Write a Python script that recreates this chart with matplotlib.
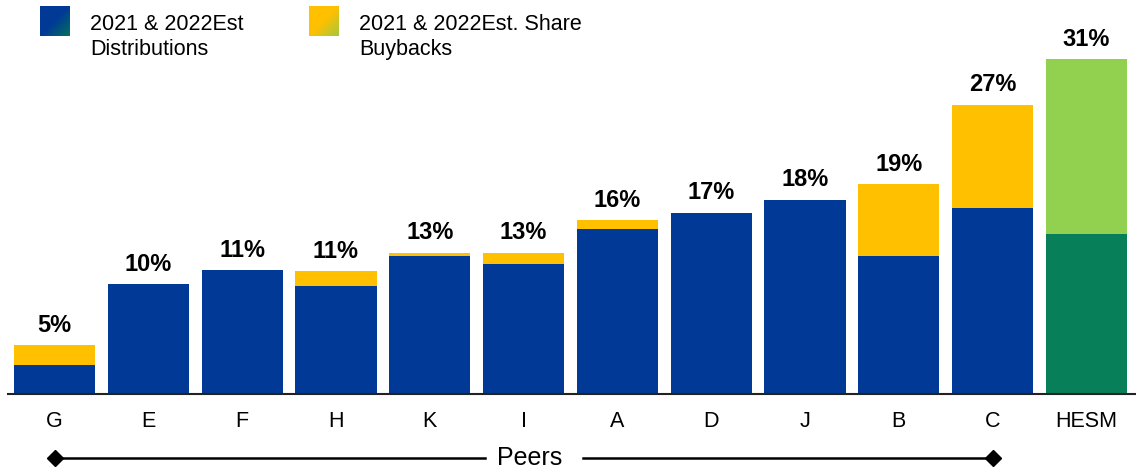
import numpy as np
from matplotlib import pyplot as plt
from matplotlib.colors import LinearSegmentedColormap

# peer data (% of market cap)
companies = ["G", "E", "F", "H", "K", "I", "A", "D", "J", "B", "C", "HESM"]
distributions = [2.7, 10.2, 11.5, 10.0, 12.8, 12.0, 15.3, 16.8, 18.0, 12.8, 17.2, 14.8]
buybacks = [1.8, 0.0, 0.0, 1.4, 0.3, 1.1, 0.8, 0.0, 0.0, 6.6, 9.6, 16.2]
totals = ["5%", "10%", "11%", "11%", "13%", "13%", "16%", "17%", "18%", "19%", "27%", "31%"]

blue = "#003A96"
yellow = "#FFC000"
dkgreen = "#077F59"
ltgreen = "#92D050"
font = "Liberation Sans"

fig = plt.figure(figsize=(11.36, 4.73), dpi=100)
ax = fig.add_axes([8/1136, 79/473, 1128/1136, 394/473])

x = np.arange(len(companies))
c1 = [blue]*(len(companies)-1) + [dkgreen]
c2 = [yellow]*(len(companies)-1) + [ltgreen]
ax.bar(x, distributions, width=0.865, color=c1)
ax.bar(x, buybacks, width=0.865, bottom=distributions, color=c2)

for i in range(len(companies)):
    top = distributions[i] + buybacks[i]
    ax.text(x[i], top + 0.75, totals[i], ha="center", va="bottom",
            fontsize=17, fontweight="bold", family=font)

ax.set_xlim(-0.496, 11.528)
ax.set_ylim(0, 394/10.8)
for s in ["top", "right", "left"]:
    ax.spines[s].set_visible(False)
ax.spines["bottom"].set_color("#222222")
ax.spines["bottom"].set_linewidth(1.5)
ax.set_yticks([])
ax.set_xticks(x)
ax.set_xticklabels(companies, fontsize=15.5, family=font)
ax.tick_params(axis="x", length=0, pad=12)

# Peers bracket under the axis
ly = -5.93
ax.plot([0, 4.59], [ly, ly], color="black", lw=1.8, clip_on=False)
ax.plot([5.63, 10], [ly, ly], color="black", lw=1.8, clip_on=False)
ax.plot([0, 10], [ly, ly], ls="none", marker="D", ms=8, color="black", clip_on=False)
ax.text(5.06, ly, "Peers", ha="center", va="center", fontsize=18, family=font)

# legend squares with gradient fill (top-left to bottom-right)
grad = np.linspace(0, 1, 50)
g = (grad[None, :] + grad[:, None]) / 2
def square(px, cols):
    sa = fig.add_axes([px/1136, 1 - 36/473, 30/1136, 30/473])
    cm = LinearSegmentedColormap.from_list("g", cols)
    sa.imshow(g, cmap=cm, aspect="auto", origin="upper")
    sa.axis("off")
square(40, [blue, blue, "#04705E"])
square(309, [yellow, yellow, "#A6C83E"])
fig.text(90/1136, 1 - 37/473, "2021 & 2022Est\nDistributions", fontsize=15.5,
         va="center", family=font, linespacing=1.22)
fig.text(359/1136, 1 - 37/473, "2021 & 2022Est. Share\nBuybacks", fontsize=15.5,
         va="center", family=font, linespacing=1.22)

fig.savefig("out.png", dpi=100)
